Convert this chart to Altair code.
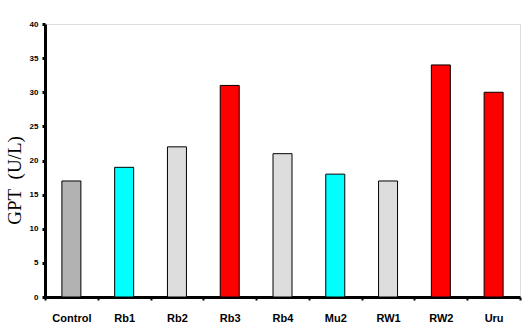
import altair as alt
import pandas as pd

categories = ["Control", "Rb1", "Rb2", "Rb3", "Rb4", "Mu2", "RW1", "RW2", "Uru"]
values = [17, 19, 22, 31, 21, 18, 17, 34, 30]
colors = ["#B2B2B2", "#00FFFF", "#DDDDDD", "#FF0000", "#DDDDDD", "#00FFFF", "#DDDDDD", "#FF0000", "#FF0000"]

df = pd.DataFrame({"cat": categories, "val": values, "col": colors})

chart = alt.Chart(df).mark_bar(stroke="black", strokeWidth=1, width=19).encode(
    x=alt.X("cat:N", sort=categories, title=None,
            scale=alt.Scale(paddingInner=0, paddingOuter=0),
            axis=alt.Axis(labelAngle=0, labelFont="Liberation Sans", labelFontWeight="bold",
                          labelFontSize=11, labelColor="black", labelPadding=12,
                          domainColor="black", domainWidth=3, tickColor="black",
                          tickWidth=2, tickSize=3, tickBand="extent", bandPosition=0)),
    y=alt.Y("val:Q", title="GPT\u00a0\u00a0(U/L)",
            scale=alt.Scale(domain=[0, 40]),
            axis=alt.Axis(values=[0, 5, 10, 15, 20, 25, 30, 35, 40], grid=False,
                          labelFont="Liberation Sans", labelFontWeight="bold", labelFontSize=8,
                          labelColor="black", labelPadding=4,
                          domainColor="black", domainWidth=3, tickColor="black",
                          tickWidth=3, tickSize=3,
                          titleFont="Liberation Serif", titleFontSize=19, titleFontWeight="normal",
                          titleColor="black", titlePadding=5, titleY=156)),
    color=alt.Color("col:N", scale=None),
).properties(
    width=475, height=273,
    autosize=alt.AutoSizeParams(type="none"),
    padding={"left": 45, "top": 24, "right": 11, "bottom": 32},
).configure_view(stroke="black", strokeWidth=1.5).configure(background="white")

chart.save("out.html", embed_options={"renderer": "svg", "actions": False})
